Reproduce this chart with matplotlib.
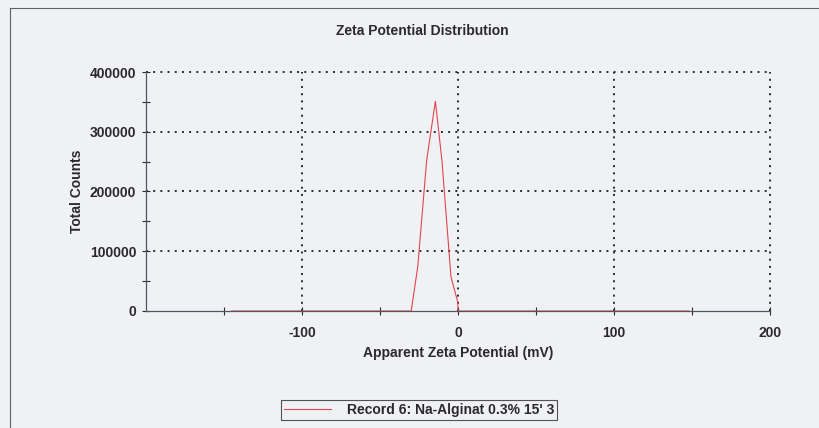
import matplotlib.pyplot as plt
from matplotlib.lines import Line2D

# values
zeta_mv = [-145, -30, -25.8, -20.1, -14.5, -10.3, -4.5, -0.2, 0, 148]
total_counts = [0, 0, 74000, 252000, 351000, 252000, 57000, 15600, 0, 0]
x_major = [-100, 0, 100, 200]
x_minor = [-150, -50, 50, 150]
y_major = [0, 100000, 200000, 300000, 400000]
y_minor = [50000, 150000, 250000, 350000]
record_label = "Record 6: Na-Alginat 0.3% 15' 3"

plt.rcParams["font.family"] = ["Liberation Sans", "DejaVu Sans"]
bg = "#f0f1f5"
ink = "#2a2a2e"
dots = (0, (1, 2.7))

fig = plt.figure(figsize=(8.19, 4.28), dpi=100, facecolor=bg)
ax = fig.add_axes([146 / 819, 1 - 311 / 428, 624 / 819, 239 / 428], facecolor=bg)

# dotted grid, skipping the solid axis lines
for v in y_major[1:]:
    ax.axhline(v, color=ink, linestyle=dots, lw=1.4, zorder=1, clip_on=False)
for v in x_major:
    ax.axvline(v, color=ink, linestyle=dots, lw=1.4, zorder=1, clip_on=False)

ax.plot(zeta_mv, total_counts, color="#e0454a", lw=0.8, zorder=3)

ax.set_xlim(-200, 200)
ax.set_ylim(0, 400000)
ax.set_xticks(x_major)
ax.set_xticks(x_minor, minor=True)
ax.set_yticks(y_major)
ax.set_yticks(y_minor, minor=True)
ax.set_xticklabels([str(v) for v in x_major], fontweight="bold", fontsize=10, color=ink)
ax.set_yticklabels([str(v) for v in y_major], fontweight="bold", fontsize=10, color=ink)
ax.tick_params(which="both", direction="inout", length=6, width=0.8, colors=ink)
ax.tick_params(axis="x", pad=8)
ax.tick_params(axis="y", pad=4)

for side in ("left", "bottom"):
    ax.spines[side].set_color("#555560")
    ax.spines[side].set_linewidth(0.9)
    ax.spines[side].set_zorder(4)
for side in ("top", "right"):
    ax.spines[side].set_visible(False)

fig.text(422 / 819, 1 - 31 / 428, "Zeta Potential Distribution", fontsize=10,
         fontweight="bold", color=ink, ha="center", va="center")
ax.set_xlabel("Apparent Zeta Potential (mV)", fontsize=10, fontweight="bold", color=ink, labelpad=4)
ax.set_ylabel("Total Counts", fontsize=10, fontweight="bold", color=ink, labelpad=4)

# outer frame of the report (only left and top edges visible in scan)
fig.add_artist(Line2D([10 / 819, 10 / 819], [0, 1 - 8 / 428], color="#606068", lw=0.8))
fig.add_artist(Line2D([10 / 819, 1], [1 - 8 / 428, 1 - 8 / 428], color="#606068", lw=0.8))

handle = Line2D([], [], color="#e0454a", lw=0.8)
leg = fig.legend([handle], [record_label], loc="center", bbox_to_anchor=(419 / 819, 1 - 410 / 428),
                 frameon=True, fancybox=False, handlelength=3.4, handletextpad=1.1,
                 borderpad=0.25, borderaxespad=0, prop={"weight": "bold", "size": 10})
leg.get_frame().set_edgecolor(ink)
leg.get_frame().set_facecolor(bg)
leg.get_frame().set_linewidth(0.8)
for t in leg.get_texts():
    t.set_color(ink)

fig.savefig("out.png", dpi=100, facecolor=bg)
